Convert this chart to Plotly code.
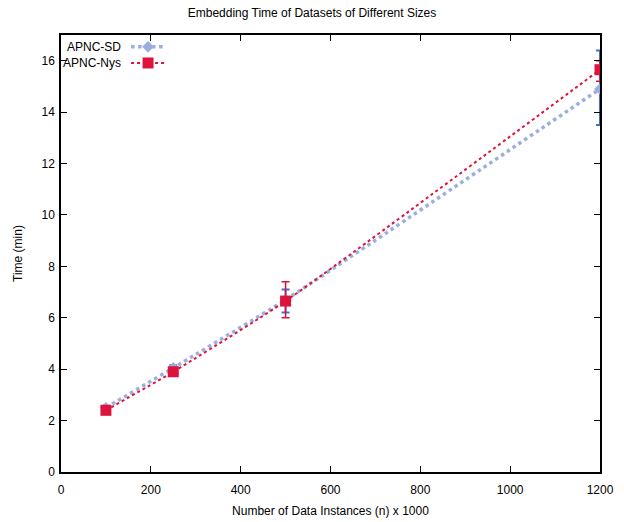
import plotly.graph_objects as go

sizes = [100, 250, 500, 1200]
sd_time = [2.5, 4.05, 6.7, 14.9]
sd_err_plus = [0.08, 0.1, 0.4, 1.5]
sd_err_minus = [0.08, 0.1, 0.5, 1.4]
nys_time = [2.4, 3.9, 6.65, 15.65]
nys_err_plus = [0.1, 0.1, 0.75, 0.35]
nys_err_minus = [0.15, 0.1, 0.65, 0.45]

x_ticks = [0, 200, 400, 600, 800, 1000, 1200]
y_ticks = [0, 2, 4, 6, 8, 10, 12, 14, 16]

SD_COLOR = "#9aaee0"
NYS_COLOR = "#dc143c"
FONT = "Liberation Sans, Arial, sans-serif"

fig = go.Figure()
fig.add_trace(go.Scatter(
    x=sizes, y=sd_time, mode="lines+markers", name="APNC-SD",
    line=dict(color=SD_COLOR, width=3.5, dash="dot", shape="spline", smoothing=0.5),
    marker=dict(symbol="diamond", size=9, color=SD_COLOR),
    error_y=dict(type="data", symmetric=False, array=sd_err_plus,
                 arrayminus=sd_err_minus, color="#4a6cc8", thickness=2, width=4),
    showlegend=False,
))
fig.add_trace(go.Scatter(
    x=sizes, y=nys_time, mode="lines+markers", name="APNC-Nys",
    line=dict(color=NYS_COLOR, width=2, dash="dot", shape="spline", smoothing=0.5),
    marker=dict(symbol="square", size=11, color=NYS_COLOR),
    error_y=dict(type="data", symmetric=False, array=nys_err_plus,
                 arrayminus=nys_err_minus, color=NYS_COLOR, thickness=1.5, width=4),
    showlegend=False,
))

# gnuplot-style legend (text left of sample)
legend_items = [("APNC-SD", SD_COLOR, "dot", 3.5, "diamond", 9),
                ("APNC-Nys", NYS_COLOR, "dot", 2, "square", 11)]
for i, (name, col, dash, w, sym, sz) in enumerate(legend_items):
    yp = 0.973 - i * 0.037
    fig.add_annotation(x=0.115, y=yp, xref="paper", yref="paper", text=name,
                       showarrow=False, xanchor="right", yanchor="middle",
                       font=dict(family=FONT, size=12, color="black"))
    fig.add_shape(type="line", x0=0.13, x1=0.193, y0=yp, y1=yp, xref="paper", yref="paper",
                  line=dict(color=col, width=w, dash=dash))
    fig.add_trace(go.Scatter(x=[0.1615], y=[yp], xaxis="x2", yaxis="y2", mode="markers",
                             marker=dict(symbol=sym, size=sz, color=col),
                             showlegend=False, hoverinfo="skip"))

axis_common = dict(showline=True, linecolor="black", linewidth=1.5, mirror="ticks",
                   ticks="inside", ticklen=6, tickcolor="black", showgrid=False,
                   zeroline=False, automargin=False,
                   tickfont=dict(family=FONT, size=12, color="black"))

fig.update_layout(
    width=624, height=522,
    margin=dict(l=61, r=24, t=35, b=50),
    paper_bgcolor="white", plot_bgcolor="white",
    title=dict(text="Embedding Time of Datasets of Different Sizes", x=0.5, xanchor="center",
               y=0.975, yanchor="middle", font=dict(family=FONT, size=12, color="black")),
    xaxis=dict(range=[0, 1200], tickvals=x_ticks, ticklabelstandoff=6,
               title=dict(text="Number of Data Instances (n) x 1000", standoff=10,
                          font=dict(family=FONT, size=12, color="black")),
               **axis_common),
    yaxis=dict(range=[0, 17], tickvals=y_ticks, ticklabelstandoff=2,
               title=dict(text="Time (min)", standoff=16,
                          font=dict(family=FONT, size=12, color="black")),
               **axis_common),
    xaxis2=dict(range=[0, 1], domain=[0, 1], overlaying="x", visible=False, anchor="y2"),
    yaxis2=dict(range=[0, 1], domain=[0, 1], overlaying="y", visible=False, anchor="x2"),
)

fig.write_html("out.html")
